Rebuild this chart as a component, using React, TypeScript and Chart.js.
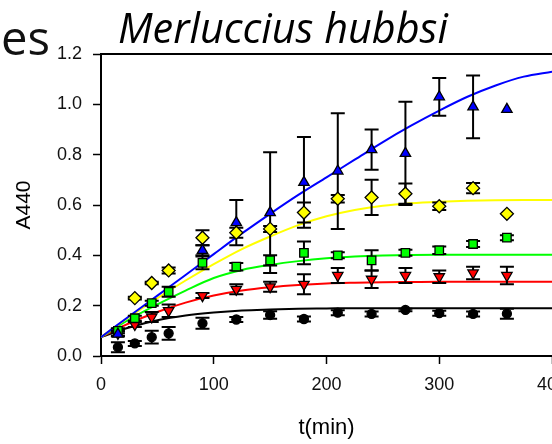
import React, { useEffect, useRef } from "react";
import { Chart, registerables } from "chart.js";

Chart.register(...registerables);

// Sampling times (min)
const times = [15, 30, 45, 60, 90, 120, 150, 180, 210, 240, 270, 300, 330, 360];

// Measured absorbance at 440 nm for each condition
const blueValues = [0.087, null, null, null, 0.42, 0.53, 0.57, 0.69, 0.735, 0.82, 0.805, 1.03, 0.99, 0.98];
const yellowValues = [null, 0.23, 0.29, 0.34, 0.47, 0.49, 0.505, 0.57, 0.625, 0.63, 0.645, 0.595, 0.667, 0.565];
const greenValues = [0.1, 0.15, 0.21, 0.255, 0.37, 0.355, 0.38, 0.41, 0.4, 0.38, 0.41, 0.42, 0.445, 0.47];
const redValues = [0.09, 0.125, 0.155, 0.18, 0.24, 0.265, 0.275, 0.285, 0.32, 0.305, 0.32, 0.315, 0.33, 0.32];
const blackValues = [0.035, 0.05, 0.075, 0.09, 0.13, 0.145, 0.163, 0.147, 0.172, 0.167, 0.183, 0.17, 0.167, 0.168];

// Standard deviations (half-height of each error bar)
const blueErrors = [0.01, 0, 0, 0, 0.02, 0.09, 0.24, 0.18, 0.23, 0.08, 0.205, 0.075, 0.125, 0];
const yellowErrors = [0, 0.005, 0.005, 0.012, 0.03, 0.02, 0.012, 0.04, 0.015, 0.07, 0.04, 0.015, 0.02, 0];
const greenErrors = [0.01, 0.01, 0.01, 0.02, 0.025, 0.015, 0.02, 0.045, 0.012, 0.04, 0.012, 0.015, 0.012, 0.01];
const redErrors = [0.01, 0.01, 0.02, 0.025, 0.01, 0.02, 0.02, 0.04, 0.03, 0.035, 0.03, 0.025, 0.025, 0.035];
const blackErrors = [0.02, 0.01, 0.025, 0.025, 0.022, 0.01, 0.015, 0.01, 0.01, 0.01, 0.005, 0.01, 0.01, 0.02];

// Fitted kinetic curves, sampled along the time axis
const fitTimes = [0, 25, 50, 75, 100, 125, 150, 175, 200, 225, 250, 275, 300, 325, 350, 375, 400];
const blueFit = [0.075, 0.158, 0.24, 0.322, 0.405, 0.487, 0.565, 0.64, 0.71, 0.78, 0.85, 0.915, 0.975, 1.03, 1.075, 1.11, 1.13];
const yellowFit = [0.075, 0.155, 0.23, 0.3, 0.365, 0.425, 0.475, 0.52, 0.555, 0.58, 0.597, 0.607, 0.613, 0.617, 0.619, 0.62, 0.62];
const greenFit = [0.075, 0.145, 0.205, 0.26, 0.31, 0.342, 0.362, 0.377, 0.388, 0.395, 0.399, 0.401, 0.402, 0.402, 0.402, 0.402, 0.402];
const redFit = [0.075, 0.13, 0.175, 0.212, 0.24, 0.26, 0.273, 0.282, 0.288, 0.291, 0.293, 0.294, 0.295, 0.295, 0.295, 0.295, 0.295];
const blackFit = [0.075, 0.113, 0.142, 0.161, 0.173, 0.181, 0.185, 0.188, 0.189, 0.19, 0.19, 0.19, 0.19, 0.19, 0.19, 0.19, 0.19];

// Axis ticks
const xTicks = [0, 100, 200, 300, 400];
const yTicks = [0, 0.2, 0.4, 0.6, 0.8, 1.0, 1.2];

const TITLE = "Merluccius hubbsi";
const HEADING_TAIL = "es";
const X_TITLE = "t(min)";
const Y_TITLE = "A440";

const AXIS_FONT = '"Liberation Sans", Arial, sans-serif';
const HEADING_FONT = '"Open Sans", Lato, sans-serif';

type Series = {
  values: (number | null)[];
  errors: number[];
  color: string;
  style: string;
  radius: number;
  rotation: number;
};

const markerSeries: Series[] = [
  { values: blueValues, errors: blueErrors, color: "#0000ff", style: "triangle", radius: 6, rotation: 0 },
  { values: yellowValues, errors: yellowErrors, color: "#ffff00", style: "rectRot", radius: 6.5, rotation: 0 },
  { values: greenValues, errors: greenErrors, color: "#00ff00", style: "rect", radius: 6, rotation: 0 },
  { values: redValues, errors: redErrors, color: "#ff0000", style: "triangle", radius: 6, rotation: 180 },
  { values: blackValues, errors: blackErrors, color: "#000000", style: "circle", radius: 4.5, rotation: 0 },
];

const fitSeries = [
  { values: blueFit, color: "#0000ff" },
  { values: yellowFit, color: "#ffff00" },
  { values: greenFit, color: "#00ff00" },
  { values: redFit, color: "#ff0000" },
  { values: blackFit, color: "#000000" },
];

function toPoints(xs: number[], ys: (number | null)[]) {
  const out: { x: number; y: number }[] = [];
  xs.forEach((x, i) => {
    const y = ys[i];
    if (y !== null && y !== undefined) out.push({ x, y });
  });
  return out;
}

// Error bars go under the markers but over the fitted curves
const errorBarPlugin = {
  id: "errorBars",
  beforeDatasetDraw(chart: any, args: any) {
    if (args.index !== markerSeries.length - 1) return;
    const { ctx, scales } = chart;
    const xs = scales.x;
    const ys = scales.y;
    ctx.save();
    ctx.strokeStyle = "#000";
    ctx.lineWidth = 2;
    const cap = 7;
    markerSeries.forEach((s) => {
      s.values.forEach((v, i) => {
        const e = s.errors[i];
        if (v === null || !e) return;
        const px = xs.getPixelForValue(times[i]);
        const top = ys.getPixelForValue(v + e);
        const bot = ys.getPixelForValue(v - e);
        ctx.beginPath();
        ctx.moveTo(px, top);
        ctx.lineTo(px, bot);
        ctx.moveTo(px - cap, top);
        ctx.lineTo(px + cap, top);
        ctx.moveTo(px - cap, bot);
        ctx.lineTo(px + cap, bot);
        ctx.stroke();
      });
    });
    ctx.restore();
  },
};

function fitFont(ctx: CanvasRenderingContext2D, text: string, prefix: string, family: string, width: number) {
  const base = 40;
  ctx.font = `${prefix} ${base}px ${family}`;
  const w = ctx.measureText(text).width;
  const size = (base * width) / w;
  ctx.font = `${prefix} ${size}px ${family}`;
}

// Frame top edge plus the heading texts
const decorPlugin = {
  id: "decor",
  afterDraw(chart: any) {
    const { ctx, chartArea } = chart;
    ctx.save();
    ctx.strokeStyle = "#000";
    ctx.lineWidth = 2;
    ctx.beginPath();
    ctx.moveTo(chartArea.left - 1, chartArea.top);
    ctx.lineTo(chartArea.right + 1, chartArea.top);
    ctx.stroke();

    ctx.fillStyle = "#000";
    ctx.textAlign = "left";
    ctx.textBaseline = "alphabetic";
    fitFont(ctx, TITLE, "italic", HEADING_FONT, 330);
    ctx.fillText(TITLE, 118, 43);

    ctx.fillStyle = "#111";
    fitFont(ctx, HEADING_TAIL, "normal", HEADING_FONT, 49);
    ctx.fillText(HEADING_TAIL, 1, 55);
    ctx.restore();
  },
};

export default function App() {
  const ref = useRef<HTMLCanvasElement>(null);

  useEffect(() => {
    if (!ref.current) return;
    const datasets: any[] = [];
    markerSeries.forEach((s) => {
      datasets.push({
        type: "scatter",
        data: toPoints(times, s.values),
        showLine: false,
        pointStyle: s.style,
        pointRadius: s.radius,
        pointRotation: s.rotation,
        pointBackgroundColor: s.color,
        pointBorderColor: "#000",
        pointBorderWidth: 1.3,
      });
    });
    fitSeries.forEach((f) => {
      datasets.push({
        type: "line",
        data: toPoints(fitTimes, f.values),
        borderColor: f.color,
        borderWidth: 2,
        pointRadius: 0,
        fill: false,
        cubicInterpolationMode: "monotone",
      });
    });

    const tickStyle = {
      drawOnChartArea: false,
      drawTicks: true,
      tickLength: 8,
      color: "#000",
      tickColor: "#000",
      tickWidth: 1.5,
    };

    const chart = new Chart(ref.current, {
      type: "scatter",
      data: { datasets },
      options: {
        responsive: false,
        animation: false,
        devicePixelRatio: 1,
        layout: { padding: { top: 54, right: 48, left: 0, bottom: 0 } },
        plugins: {
          legend: { display: false },
          tooltip: { enabled: false },
          title: { display: false },
        },
        scales: {
          x: {
            type: "linear",
            min: xTicks[0],
            max: xTicks[xTicks.length - 1],
            afterFit(s: any) {
              s.height = 88;
            },
            afterBuildTicks(s: any) {
              s.ticks = xTicks.map((v) => ({ value: v }));
            },
            ticks: {
              font: { family: AXIS_FONT, size: 18 },
              color: "#111",
              padding: 10,
              maxRotation: 0,
              autoSkip: false,
            },
            grid: tickStyle,
            border: { display: true, color: "#000", width: 2 },
            title: {
              display: true,
              text: X_TITLE,
              font: { family: AXIS_FONT, size: 22 },
              color: "#000",
              padding: { top: 0, bottom: 3 },
            },
          },
          y: {
            type: "linear",
            min: yTicks[0],
            max: yTicks[yTicks.length - 1],
            afterFit(s: any) {
              s.width = 101;
            },
            afterBuildTicks(s: any) {
              s.ticks = yTicks.map((v) => ({ value: v }));
            },
            ticks: {
              font: { family: AXIS_FONT, size: 18 },
              color: "#111",
              padding: 11,
              autoSkip: false,
              callback: (v: any) => Number(v).toFixed(1),
            },
            grid: tickStyle,
            border: { display: true, color: "#000", width: 2 },
            title: {
              display: true,
              text: Y_TITLE,
              font: { family: AXIS_FONT, size: 21 },
              color: "#000",
              padding: { top: 12, bottom: 0 },
            },
          },
        },
      },
      plugins: [errorBarPlugin, decorPlugin],
    } as any);
    return () => chart.destroy();
  }, []);

  return (
    <div
      style={{
        position: "fixed",
        left: 0,
        top: 0,
        width: 552,
        height: 444,
        overflow: "hidden",
        background: "#fff",
      }}
    >
      <canvas ref={ref} width={600} height={444} style={{ display: "block", width: 600, height: 444 }} />
    </div>
  );
}
